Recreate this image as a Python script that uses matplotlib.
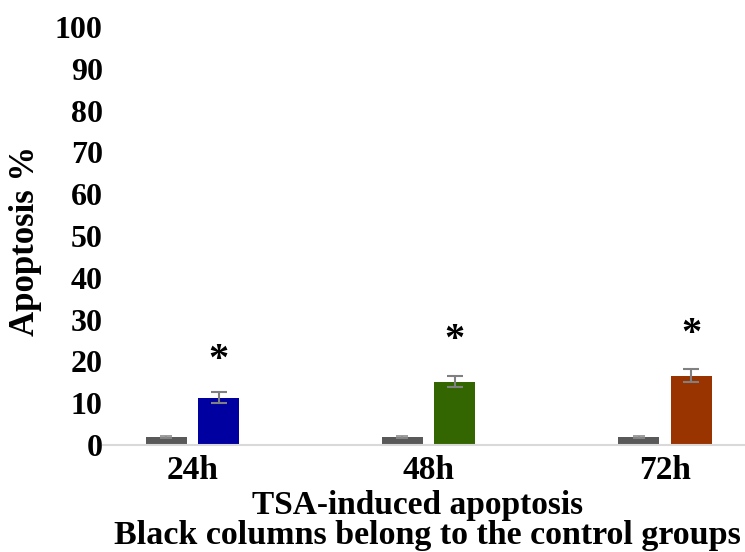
import matplotlib
matplotlib.use("Agg")
import matplotlib.pyplot as plt
import numpy as np

categories = ["24h", "48h", "72h"]
control_vals = [1.9, 1.9, 1.9]
control_err = [0.2, 0.2, 0.2]
tsa_vals = [11.3, 15.1, 16.6]
tsa_err = [1.3, 1.3, 1.5]
tsa_colors = ["#0000a0", "#336600", "#993300"]
star_y = [20.1, 24.9, 26.5]
yticks = [0, 10, 20, 30, 40, 50, 60, 70, 80, 90, 100]

plt.rcParams['font.family'] = ['Liberation Serif', 'DejaVu Serif']
plt.rcParams['font.weight'] = 'bold'

fig = plt.figure(figsize=(7.45, 5.52), dpi=100)
ax = fig.add_axes([0.138, 0.194, 0.862, 0.757])

x = np.arange(len(categories))
w = 0.173
off = 0.111
ax.bar(x - off, control_vals, w, color="#595959",
       yerr=control_err, ecolor="#8c8c8c", capsize=4, error_kw=dict(elinewidth=1.2, capthick=1.2))
ax.bar(x + off, tsa_vals, w, color=tsa_colors,
       yerr=tsa_err, ecolor="#808080", capsize=6, error_kw=dict(elinewidth=1.5, capthick=1.5))
for xi, sy in zip(x, star_y):
    ax.text(xi + off, sy, "*", ha="center", va="center", fontsize=29, fontweight="bold")

ax.set_xlim(-0.379, 2.339)
ax.set_ylim(0, 100)
ax.set_yticks(yticks)
ax.set_yticklabels([str(t) for t in yticks], fontsize=23, fontweight="bold")
ax.set_xticks(x)
ax.set_xticklabels(categories, fontsize=24, fontweight="bold")
ax.tick_params(axis="both", length=0)
ax.tick_params(axis="y", pad=0)
ax.tick_params(axis="x", pad=7)
for s in ["top", "right", "left"]:
    ax.spines[s].set_visible(False)
ax.spines["bottom"].set_color("#d9d9d9")
ax.spines["bottom"].set_linewidth(1.5)

fig.text(0.034, 0.563, "Apoptosis %", rotation=90, ha="center", va="center",
         fontsize=25, fontweight="bold")
fig.text(0.561, 0.085, "TSA-induced apoptosis", ha="center", va="center",
         fontsize=24, fontweight="bold")
fig.text(0.574, 0.030, "Black columns belong to the control groups", ha="center", va="center",
         fontsize=24.5, fontweight="bold")

fig.savefig("out.png", dpi=100)
